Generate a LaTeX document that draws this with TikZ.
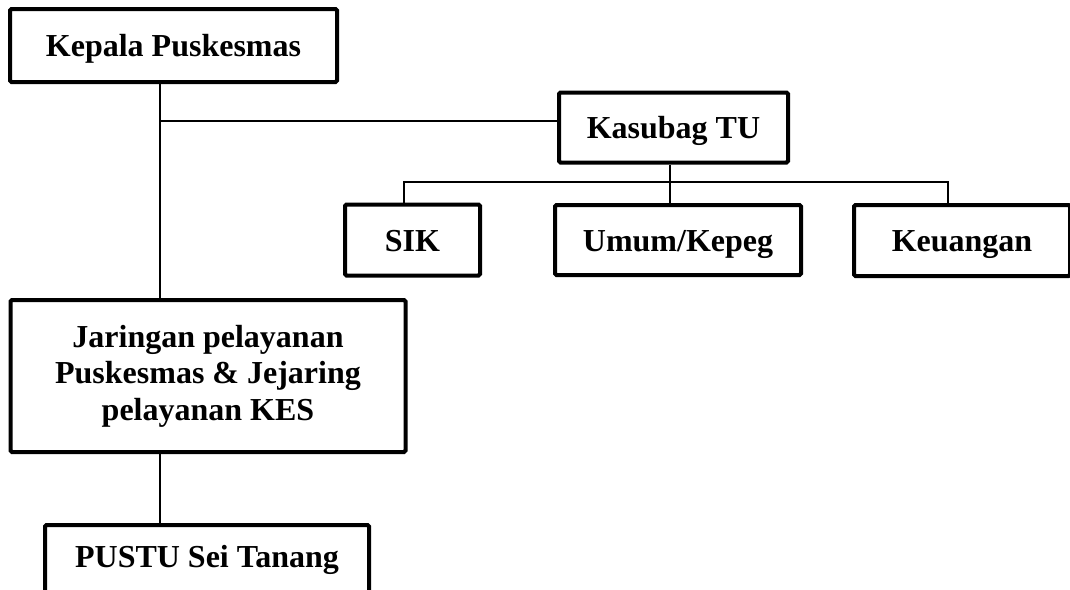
\documentclass[tikz,border=0pt]{standalone}
\usepackage{fontspec}
\setmainfont{Liberation Serif}
\begin{document}
\begin{tikzpicture}[x=1pt,y=-1pt,
  kotak/.style={draw,line width=4pt,rounded corners=1.5pt,inner sep=0pt,align=center,
    font=\fontsize{32}{36.5}\selectfont\bfseries},
  satu/.style={text height=22,text depth=0},
  garis/.style={line width=1.6pt}]
\useasboundingbox (0,0) rectangle (1070,589);
%\path[draw] (0,0) rectangle (1070,589);
\node[kotak,satu,minimum width=327,minimum height=73] (kepala) at (173.5,45.5) {Kepala Puskesmas};
\node[kotak,satu,minimum width=229,minimum height=70] (kasubag) at (673.5,127.5) {Kasubag TU};
\node[kotak,satu,minimum width=135,minimum height=71] (sik) at (412.5,240) {SIK};
\node[kotak,satu,minimum width=246,minimum height=70] (umum) at (678,240) {Umum/Kepeg};
\node[kotak,satu,minimum width=216,minimum height=71] (uang) at (962,240.5) {Keuangan};
\node[kotak,minimum width=395,minimum height=152] (jaringan) at (208,376) {Jaringan pelayanan\\Puskesmas \& Jejaring\\pelayanan KES};
\node[kotak,minimum width=324,anchor=north,text height=22,text depth=60,inner ysep=20] (pustu) at (207,523) {PUSTU Sei Tanang};
% garis
\coordinate (cabang) at (160,121);
\coordinate (palang) at (670,182);
\draw[garis] (kepala.south -| cabang) -- (jaringan.north -| cabang);
\draw[garis] (cabang) -- (cabang -| kasubag.west);
\draw[garis] (kasubag.south -| palang) -- (umum.north -| palang);
\draw[garis] (sik.north -| 404,0) -- (404,182) -- (948,182) -- (uang.north -| 948,0);
\draw[garis] (jaringan.south -| cabang) -- (pustu.north -| cabang);
\end{tikzpicture}
\end{document}
